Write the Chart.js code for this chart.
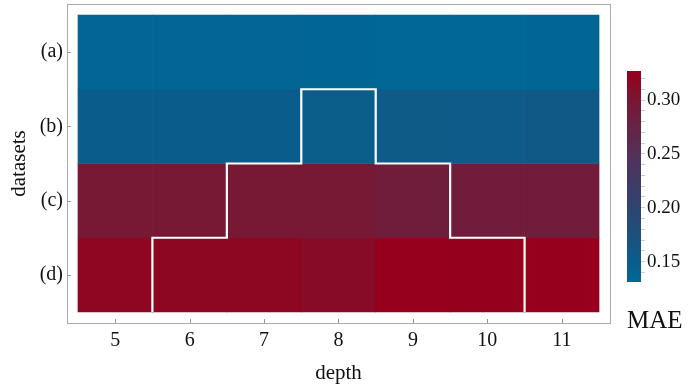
<!DOCTYPE html>
<html>
<head>
<meta charset="utf-8">
<script src="https://cdn.jsdelivr.net/npm/chart.js@4.4.1/dist/chart.umd.min.js"></script>
<style>
  body { margin: 0; background: #fff; }
  #wrap { position: relative; width: 689px; height: 385px; }
  #heat { position: absolute; left: 0; top: 0; }
  #cbar { position: absolute; left: 618px; top: 60px; }
</style>
</head>
<body>
<div id="wrap">
  <canvas id="heat" width="689" height="385"></canvas>
  <canvas id="cbar" width="71" height="290"></canvas>
</div>
<script>
// data
var depths = [5, 6, 7, 8, 9, 10, 11];
var rowLabels = ['(d)', '(c)', '(b)', '(a)'];   // bottom -> top
var maeA = [0.137, 0.137, 0.136, 0.134, 0.132, 0.132, 0.135];
var maeB = [0.150, 0.150, 0.150, 0.151, 0.155, 0.156, 0.158];
var maeC = [0.296, 0.296, 0.296, 0.296, 0.287, 0.289, 0.289];
var maeD = [0.320, 0.318, 0.318, 0.313, 0.327, 0.326, 0.327];
var rows = [maeD, maeC, maeB, maeA];

// white outline (cell edges, depth / row units)
var outlineX = [5.5, 5.5, 6.5, 6.5, 7.5, 7.5, 8.5, 8.5, 9.5, 9.5, 10.5, 10.5];
var outlineY = [0, 1, 1, 2, 2, 3, 3, 2, 2, 1, 1, 0];

// colour scale
var cbMin = 0.131, cbMax = 0.327;
var cbTicks = [0.14, 0.15, 0.16, 0.17, 0.18, 0.19, 0.20, 0.21, 0.22, 0.23, 0.24, 0.25, 0.26, 0.27, 0.28, 0.29, 0.30, 0.31, 0.32];
var stopVals = [0.131, 0.15, 0.20, 0.25, 0.30, 0.327];
var stopCols = ['#006896', '#0a5d8b', '#2f4470', '#55305a', '#7a1632', '#96001c'];

function hexRgb(h) {
  return [parseInt(h.substr(1, 2), 16), parseInt(h.substr(3, 2), 16), parseInt(h.substr(5, 2), 16)];
}
function maeColor(v) {
  if (v <= stopVals[0]) return stopCols[0];
  for (var i = 1; i < stopVals.length; i++) {
    if (v <= stopVals[i]) {
      var t = (v - stopVals[i - 1]) / (stopVals[i] - stopVals[i - 1]);
      var a = hexRgb(stopCols[i - 1]), b = hexRgb(stopCols[i]);
      return 'rgb(' + [0, 1, 2].map(function (k) { return Math.round(a[k] + (b[k] - a[k]) * t); }).join(',') + ')';
    }
  }
  return stopCols[stopCols.length - 1];
}

Chart.defaults.font.family = "'Liberation Serif', 'Times New Roman', serif";
Chart.defaults.color = '#111';

var cells = [], cellColors = [];
for (var r = 0; r < rows.length; r++) {
  for (var c = 0; c < depths.length; c++) {
    cells.push({ x: depths[c], y: [r, r + 1] });
    cellColors.push(maeColor(rows[r][c]));
  }
}
var outline = outlineX.map(function (x, i) { return { x: x, y: outlineY[i] }; });

var framePlugin = {
  id: 'frame',
  afterDraw: function (chart) {
    var ctx = chart.ctx, a = chart.chartArea;
    ctx.save();
    ctx.strokeStyle = '#aaaaaa';
    ctx.lineWidth = 1;
    ctx.strokeRect(Math.round(a.left) + 0.5, Math.round(a.top) + 0.5, Math.round(a.right - a.left), Math.round(a.bottom - a.top));
    // inward ticks
    ctx.strokeStyle = '#999999';
    chart.scales.x.ticks.forEach(function (t) {
      var px = Math.round(chart.scales.x.getPixelForValue(t.value)) + 0.5;
      ctx.beginPath(); ctx.moveTo(px, a.bottom); ctx.lineTo(px, a.bottom - 4); ctx.stroke();
    });
    chart.scales.y.ticks.forEach(function (t) {
      var py = Math.round(chart.scales.y.getPixelForValue(t.value)) + 0.5;
      ctx.beginPath(); ctx.moveTo(a.left, py); ctx.lineTo(a.left + 4, py); ctx.stroke();
    });
    ctx.restore();
  }
};

new Chart(document.getElementById('heat'), {
  type: 'bar',
  data: {
    datasets: [
      {
        type: 'line',
        data: outline,
        borderColor: '#ffffff',
        borderWidth: 2.2,
        pointRadius: 0,
        tension: 0,
        fill: false,
        borderJoinStyle: 'miter',
        order: 0
      },
      {
        data: cells,
        backgroundColor: cellColors,
        borderWidth: 0,
        barPercentage: 1,
        categoryPercentage: 1,
        order: 1
      }
    ]
  },
  options: {
    responsive: false,
    animation: false,
    events: [],
    layout: { padding: { top: 4, right: 79, left: 0, bottom: 0 } },
    plugins: { legend: { display: false }, tooltip: { enabled: false } },
    scales: {
      x: {
        type: 'linear',
        min: 4.3525, max: 11.6475,
        offset: false,
        afterBuildTicks: function (s) { s.ticks = depths.map(function (d) { return { value: d }; }); },
        afterFit: function (s) { s.height = 62; s.paddingLeft = 0; s.paddingRight = 0; },
        ticks: { padding: 6, font: { size: 20 }, color: '#111', callback: function (v) { return v; } },
        grid: { display: false, drawTicks: false, offset: false },
        border: { display: false },
        title: { display: true, text: 'depth', font: { size: 21 }, color: '#111', padding: { top: 0, bottom: -1 } }
      },
      y: {
        type: 'linear',
        min: -0.148, max: 4.148,
        afterBuildTicks: function (s) { s.ticks = [0.5, 1.5, 2.5, 3.5].map(function (v) { return { value: v }; }); },
        afterFit: function (s) { s.width = 67; s.paddingTop = 0; s.paddingBottom = 0; },
        ticks: { padding: 4, font: { size: 20 }, color: '#111', callback: function (v) { return rowLabels[Math.round(v - 0.5)]; } },
        grid: { display: false, drawTicks: false },
        border: { display: false },
        title: { display: true, text: 'datasets', font: { size: 21 }, color: '#111', padding: { top: 7, bottom: 0 } }
      }
    }
  },
  plugins: [framePlugin]
});

function cbGradient(context) {
  var chart = context.chart, area = chart.chartArea;
  if (!area) return stopCols[0];
  var y = chart.scales.y;
  var p0 = y.getPixelForValue(cbMin), p1 = y.getPixelForValue(cbMax);
  var g = chart.ctx.createLinearGradient(0, p0, 0, p1);
  stopVals.forEach(function (v, i) { g.addColorStop((v - cbMin) / (cbMax - cbMin), stopCols[i]); });
  return g;
}

new Chart(document.getElementById('cbar'), {
  type: 'bar',
  data: {
    labels: [''],
    datasets: [{ data: [[cbMin, cbMax]], backgroundColor: cbGradient, borderWidth: 0, barPercentage: 1, categoryPercentage: 1 }]
  },
  options: {
    responsive: false,
    animation: false,
    events: [],
    layout: { padding: { left: 9, top: 11, right: 0, bottom: 0 } },
    plugins: {
      legend: { display: false },
      tooltip: { enabled: false },
      title: { display: true, text: 'MAE', position: 'bottom', align: 'start', font: { size: 25, weight: 'normal' }, color: '#111', padding: { top: 24, bottom: 14 } }
    },
    scales: {
      x: { display: false },
      y: {
        position: 'right',
        min: cbMin, max: cbMax,
        afterBuildTicks: function (s) { s.ticks = cbTicks.map(function (v) { return { value: v }; }); },
        afterFit: function (s) { s.width = 48; s.paddingTop = 0; s.paddingBottom = 0; },
        ticks: {
          autoSkip: false, padding: 2, font: { size: 19 }, color: '#111',
          callback: function (v) {
            var k = v * 20;
            return Math.abs(k - Math.round(k)) < 1e-6 ? v.toFixed(2) : '';
          }
        },
        grid: { drawOnChartArea: false, tickLength: 4, color: '#cccccc' },
        border: { display: false }
      }
    }
  }
});
</script>
</body>
</html>
